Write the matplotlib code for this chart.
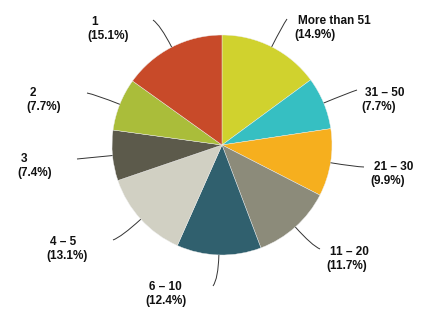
import numpy as np
import matplotlib.pyplot as plt
from matplotlib.path import Path
from matplotlib.patches import PathPatch

plt.rcParams['font.family'] = ['Liberation Sans', 'DejaVu Sans']

# slices, clockwise from 12 o'clock
categories = ["More than 51", "31 \u2013 50", "21 \u2013 30", "11 \u2013 20",
              "6 \u2013 10", "4 \u2013 5", "3", "2", "1"]
shares = [14.9, 7.7, 9.9, 11.7, 12.4, 13.1, 7.4, 7.7, 15.1]
colors = ["#d0d22e", "#36bfc2", "#f6af1e", "#8c8b7a", "#30606e",
          "#d1d0c3", "#5c5a4b", "#aabd3a", "#c84a29"]

# label layout in pixel coords (top-left of first line), leader end points
label_xy = [(298, 15), (365, 87), (374, 161), (330, 246), (149, 281),
            (50, 236), (21, 153), (30, 87), (91, 16)]
leader_end = [(287, 19), (357, 90), (364, 167), (320, 249), (213, 286),
              (113, 240), (77, 159), (87, 93), (153, 20)]

W, H = 444, 319
cx, cy, R = 222, 145, 110


def py(y):
    # pixel row -> data y
    return H - y


fig = plt.figure(figsize=(W / 100, H / 100), dpi=100)
ax = fig.add_axes([0, 0, 1, 1])
wedges, _ = ax.pie(shares, colors=colors, startangle=90, counterclock=False,
                   center=(cx, py(cy)), radius=R,
                   wedgeprops=dict(linewidth=0.3, edgecolor="#eeeeee"))
ax.set_xlim(0, W)
ax.set_ylim(0, H)
ax.set_aspect("equal")
ax.axis("off")

for w, name, pct, (lx, ly), (ex, ey) in zip(wedges, categories, shares,
                                             label_xy, leader_end):
    ang = np.deg2rad((w.theta1 + w.theta2) / 2)
    d = np.array([np.cos(ang), np.sin(ang)])
    p0 = np.array([cx, py(cy)]) + R * d
    p2 = np.array([ex, py(ey)])
    dist = np.linalg.norm(p2 - p0)
    p1 = p0 + d * dist * 0.75
    path = Path([p0, p1, p2], [Path.MOVETO, Path.CURVE3, Path.CURVE3])
    ax.add_patch(PathPatch(path, fill=False, lw=0.7, color="#333333"))
    ax.text(lx, py(ly), name, ha="left", va="top", fontsize=8.5,
            fontweight="bold", color="#111111")
    ax.text(lx - 4, py(ly + 14), "(%.1f%%)" % pct, ha="left", va="top",
            fontsize=8.5, fontweight="bold", color="#111111")

fig.savefig("out.png", dpi=100)
